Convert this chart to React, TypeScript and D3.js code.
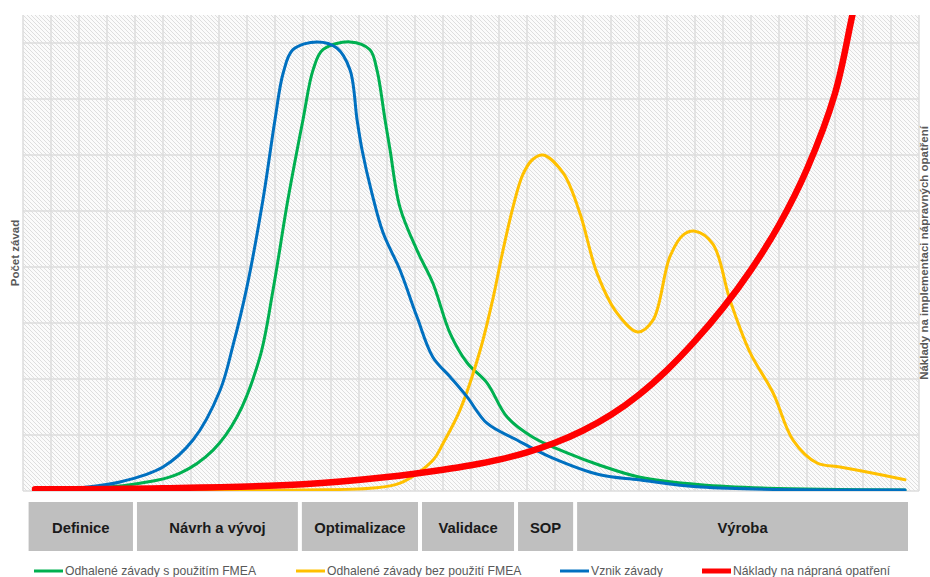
import * as d3 from "d3";
import { useEffect, useRef } from "react";

// x = project timeline (grid columns), y = relative count / cost
const detectedWithFmea = [
  [0.43, 0.02], [3.82, 0.11], [5.61, 0.32], [6.79, 0.73], [7.64, 1.32], [8.46, 2.39],
  [8.93, 3.59], [9.46, 5.2], [10.0, 6.63], [10.36, 7.52], [10.71, 7.88], [11.68, 8.02],
  [12.39, 7.88], [12.64, 7.52], [12.93, 6.63], [13.11, 6.09], [13.46, 5.07], [14.07, 4.3],
  [14.64, 3.71], [15.25, 2.82], [15.86, 2.29], [16.57, 1.93], [17.29, 1.32], [18.21, 0.96],
  [19.43, 0.68], [20.6, 0.46], [22.0, 0.25], [24.2, 0.11], [26.6, 0.05], [31.5, 0.02],
];

const detectedWithoutFmea = [
  [0.43, 0.0], [9.9, 0.02], [12.4, 0.05], [13.46, 0.14], [14.64, 0.55], [15.0, 0.85],
  [15.61, 1.45], [16.32, 2.5], [16.79, 3.45], [17.1, 4.2], [17.5, 5.07], [17.85, 5.65],
  [18.2, 5.92], [18.57, 6.0], [19.29, 5.68], [19.89, 4.96], [20.5, 3.89], [21.21, 3.18],
  [21.96, 2.84], [22.5, 3.05], [23.1, 4.18], [23.57, 4.57], [24.0, 4.64], [24.64, 4.41],
  [25.25, 3.41], [25.96, 2.48], [26.79, 1.75], [27.5, 0.91], [28.36, 0.5], [29.18, 0.43],
  [30.14, 0.34], [31.5, 0.2],
];

const defectOrigin = [
  [0.43, 0.02], [2.29, 0.07], [3.46, 0.16], [5.0, 0.43], [6.07, 0.91], [7.04, 1.8],
  [7.5, 2.6], [8.0, 3.65], [8.57, 5.2], [9.0, 6.63], [9.29, 7.46], [9.64, 7.88],
  [10.5, 8.02], [11.21, 7.91], [11.68, 7.52], [11.93, 6.63], [12.11, 6.09], [12.46, 5.32],
  [12.86, 4.61], [13.46, 3.95], [14.07, 3.11], [14.64, 2.39], [15.25, 2.04], [15.86, 1.68],
  [16.57, 1.21], [17.64, 0.91], [18.82, 0.61], [20.6, 0.29], [22.0, 0.2], [24.2, 0.07],
  [31.5, 0.02],
];

const correctionCost = [
  [0.43, 0.03], [5, 0.05], [10, 0.12], [13, 0.25], [15, 0.38], [16, 0.46], [17, 0.56],
  [18, 0.69], [19, 0.86], [20, 1.08], [21, 1.36], [22, 1.72], [23, 2.16], [24, 2.68],
  [25, 3.27], [26, 3.95], [27, 4.75], [28, 5.75], [29, 7.1], [29.6, 8.45], [30, 9.4],
];

const seriesNames = [
  "Odhalené závady s použitím FMEA",
  "Odhalené závady bez použití FMEA",
  "Vznik závady",
  "Náklady na nápraná opatření",
];
const seriesColors = ["#00b050", "#ffc000", "#0070c0", "#ff0000"];
const seriesWidths = [3, 3, 3, 6.5];

const phaseNames = ["Definice", "Návrh a vývoj", "Optimalizace", "Validace", "SOP", "Výroba"];
const phaseBounds = [0.2, 4.07, 9.96, 14.25, 17.68, 19.79, 31.75];

const yTitle = "Počet závad";
const y2Title = "Náklady na implementaci nápravných opatření";

const W = 930;
const H = 577;
const FONT = "Arial, 'Liberation Sans', sans-serif";

const App = () => {
  const ref = useRef<SVGSVGElement>(null);

  useEffect(() => {
    const svg = d3.select(ref.current);
    svg.selectAll("*").remove();

    const plot = { left: 23, top: 15, right: 919, bottom: 491 };
    const x = d3.scaleLinear().domain([0, 32]).range([plot.left, plot.right]);
    const y = d3.scaleLinear().domain([0, 8.5]).range([plot.bottom, plot.top]);

    const defs = svg.append("defs");
    const pat = defs
      .append("pattern")
      .attr("id", "hatch")
      .attr("patternUnits", "userSpaceOnUse")
      .attr("width", 4)
      .attr("height", 4);
    pat.append("rect").attr("width", 4).attr("height", 4).attr("fill", "#fbfbfb");
    pat
      .append("path")
      .attr("d", "M-1,-1L5,5M-1,3L1,5M3,-1L5,1")
      .attr("stroke", "#dedede")
      .attr("stroke-width", 1);
    defs
      .append("clipPath")
      .attr("id", "plotClip")
      .append("rect")
      .attr("x", plot.left)
      .attr("y", plot.top)
      .attr("width", plot.right - plot.left)
      .attr("height", plot.bottom - plot.top);

    // plot background
    svg
      .append("rect")
      .attr("x", plot.left)
      .attr("y", plot.top)
      .attr("width", plot.right - plot.left)
      .attr("height", plot.bottom - plot.top)
      .attr("fill", "url(#hatch)");

    // grid
    const grid = svg.append("g").attr("stroke", "#dcdcdc").attr("stroke-width", 1.5);
    grid
      .selectAll("vline")
      .data(d3.range(0, 33))
      .join("line")
      .attr("x1", (d) => x(d))
      .attr("x2", (d) => x(d))
      .attr("y1", plot.top)
      .attr("y2", plot.bottom);
    grid
      .selectAll("hline")
      .data(d3.range(0, 9))
      .join("line")
      .attr("x1", plot.left)
      .attr("x2", plot.right)
      .attr("y1", (d) => y(d))
      .attr("y2", (d) => y(d));

    // series
    const line = d3
      .line<number[]>()
      .x((d) => x(d[0]))
      .y((d) => y(d[1]))
      .curve(d3.curveCatmullRom.alpha(0.5));
    const all = [detectedWithFmea, detectedWithoutFmea, defectOrigin, correctionCost];
    svg
      .append("g")
      .attr("clip-path", "url(#plotClip)")
      .selectAll("path")
      .data(all)
      .join("path")
      .attr("d", (d) => line(d))
      .attr("fill", "none")
      .attr("stroke", (_, i) => seriesColors[i])
      .attr("stroke-width", (_, i) => seriesWidths[i])
      .attr("stroke-linecap", "round");

    // phase boxes
    const phases = svg.append("g");
    phaseNames.forEach((name, i) => {
      const x0 = x(phaseBounds[i]);
      const x1 = x(phaseBounds[i + 1]) - 4;
      phases
        .append("rect")
        .attr("x", x0)
        .attr("y", 502)
        .attr("width", x1 - x0)
        .attr("height", 49)
        .attr("fill", "#bfbfbf");
      phases
        .append("text")
        .attr("x", (x0 + x1) / 2)
        .attr("y", 533)
        .attr("text-anchor", "middle")
        .attr("font-family", FONT)
        .attr("font-weight", "bold")
        .attr("font-size", 14.8)
        .attr("fill", "#1a1a1a")
        .text(name);
    });

    // axis titles
    svg
      .append("text")
      .attr("transform", `translate(19,${(plot.top + plot.bottom) / 2}) rotate(-90)`)
      .attr("text-anchor", "middle")
      .attr("font-family", FONT)
      .attr("font-weight", "bold")
      .attr("font-size", 11.5)
      .attr("fill", "#595959")
      .text(yTitle);
    svg
      .append("text")
      .attr("transform", `translate(928,${(plot.top + plot.bottom) / 2}) rotate(-90)`)
      .attr("text-anchor", "middle")
      .attr("font-family", FONT)
      .attr("font-weight", "bold")
      .attr("font-size", 11.5)
      .attr("fill", "#595959")
      .text(y2Title);

    // legend
    const legendX = [34, 296, 560, 702];
    const legend = svg.append("g");
    seriesNames.forEach((name, i) => {
      legend
        .append("line")
        .attr("x1", legendX[i])
        .attr("x2", legendX[i] + 29)
        .attr("y1", 571)
        .attr("y2", 571)
        .attr("stroke", seriesColors[i])
        .attr("stroke-width", i === 3 ? 5 : 3);
      legend
        .append("text")
        .attr("x", legendX[i] + 31)
        .attr("y", 575)
        .attr("font-family", FONT)
        .attr("font-size", 12.2)
        .attr("fill", "#595959")
        .text(name);
    });
  }, []);

  return (
    <svg
      ref={ref}
      width={W}
      height={H}
      style={{ position: "absolute", left: 0, top: 0, background: "#fff" }}
    />
  );
};

export default App;
